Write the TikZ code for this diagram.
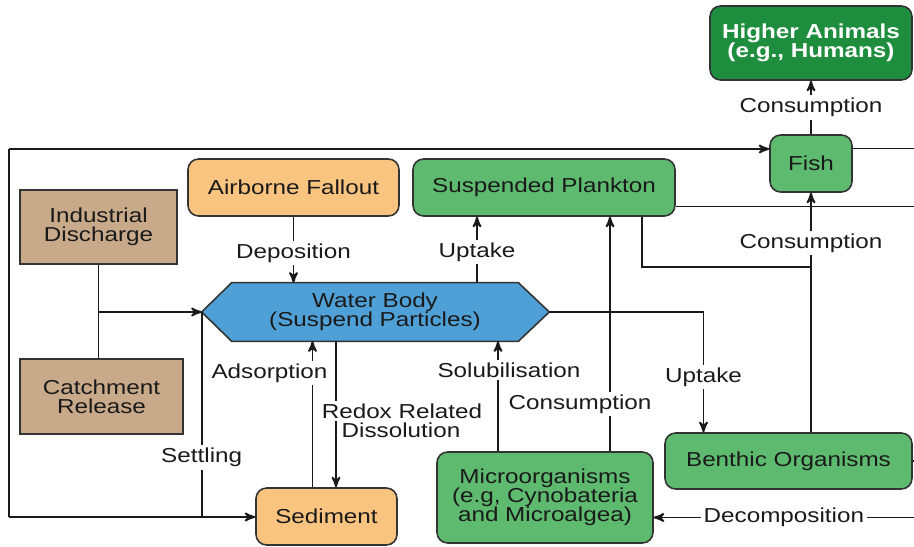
\documentclass[tikz,border=0pt]{standalone}
\usepackage{fontspec}
\setmainfont{Liberation Sans}[FakeStretch=1.2]
\usetikzlibrary{positioning}
\usetikzlibrary{arrows}
\usetikzlibrary{calc}
\definecolor{brownfill}{HTML}{C8A98A}
\definecolor{orangefill}{HTML}{F9C47F}
\definecolor{greenfill}{HTML}{5DBA6F}
\definecolor{darkgreen}{HTML}{1E8E3E}
\definecolor{bluefill}{HTML}{4FA0D6}
\definecolor{boxline}{HTML}{333333}
\definecolor{ink}{HTML}{1A1A1A}
\tikzset{>=stealth'}
\tikzset{box/.style={draw=boxline, line width=0.9pt, rounded corners=6pt, align=center, inner sep=0pt, text=ink, font=\fontsize{11.5}{10.8}\selectfont}}
\tikzset{srcbox/.style={box, rounded corners=0pt, fill=brownfill}}
\tikzset{lbl/.style={fill=white, inner sep=1.5pt, text=ink, font=\fontsize{11.5}{10.8}\selectfont}}
\tikzset{flow/.style={line width=1.1pt, draw=ink}}

\begin{document}
\begin{tikzpicture}[x=0.02cm, y=-0.02cm]
        \useasboundingbox (0,0) rectangle (914,547);

        \node[srcbox, minimum width=3.14cm, minimum height=1.48cm] (ind) at (98.5,227) {Industrial\\Discharge};
        \node[srcbox, minimum width=3.26cm, minimum height=1.5cm] (catch) at (101.5,396.5) {Catchment\\Release};
        \node[box, fill=orangefill, minimum width=4.22cm, minimum height=1.14cm] (air) at (293.5,187.5) {Airborne Fallout};
        \node[box, fill=greenfill, minimum width=5.24cm, minimum height=1.14cm] (plank) at (544,187.5) {Suspended Plankton};
        \node[box, fill=darkgreen, text=white, font=\fontsize{11.5}{10.8}\selectfont\bfseries, minimum width=4.04cm, minimum height=1.48cm] (higher) at (811,43) {Higher Animals\\(e.g., Humans)};
        \node[box, fill=greenfill, minimum width=1.64cm, minimum height=1.14cm] (fish) at (811,163.5) {Fish};
        \node[box, fill=orangefill, minimum width=2.82cm, minimum height=1.14cm] (sed) at (326.5,516.5) {Sediment};
        \node[box, fill=greenfill, minimum width=4.32cm, minimum height=1.82cm] (micro) at (545,497.5) {Microorganisms\\(e.g, Cynobateria\\and Microalgea)};
        \node[box, fill=greenfill, minimum width=4.94cm, minimum height=1.12cm] (benth) at (788.5,461) {Benthic Organisms};

        % water body hexagon
        \node[minimum width=5.72cm, minimum height=1.16cm, inner sep=0pt] (water) at (375,312) {};
        \coordinate (wl) at ($(water.west)+(-30,0)$);
        \coordinate (wr) at ($(water.east)+(31,0)$);
        \draw[draw=boxline, line width=0.9pt, fill=bluefill] (wl) -- (water.north west) -- (water.north east) -- (wr) -- (water.south east) -- (water.south west) -- cycle;
        \node[align=center, text=ink, font=\fontsize{11.5}{10.8}\selectfont] (waterlbl) at (water) {Water Body\\(Suspend Particles)};

        \coordinate (edge) at (914,0);
        \coordinate (ltop) at (9,149);
        \coordinate (lbot) at (9,517);
        \coordinate (upk) at ($(water.north)+(102,0)$);
        \coordinate (ads) at ($(sed.north)+(-14,0)$);
        \coordinate (rdx) at ($(water.south)+(-39,0)$);
        \coordinate (sol) at ($(micro.north)+(-47,0)$);
        \coordinate (mcon) at ($(micro.north)+(65,0)$);
        \coordinate (bup) at ($(benth.north)+(-85,0)$);
        \coordinate (bcon) at (benth.north -| fish);
        \coordinate (pk) at ($(plank.south)+(98,0)$);
        \coordinate (jn) at (fish.south |- 0,267);
        \coordinate (fr) at ($(fish.east)+(0,-15)$);
        \coordinate (pr) at ($(plank.east)+(0,19)$);
        \coordinate (dc) at ($(micro.east)+(0,20)$);

        % outer loop
        \draw[flow] (ltop) -- (lbot);
        \draw[flow, ->] (ltop) -- (ltop -| fish.west);
        \draw[flow, ->] (lbot) -- (lbot -| sed.west);

        % sources
        \draw[flow] (ind) -- (ind.south |- catch.north);
        \draw[flow, ->] (wl -| ind.south) -- (wl);
        \draw[flow] (wl) -- node[lbl, pos=0.71] {Settling} (wl |- lbot);
        \draw[flow, ->] (air) -- node[lbl, pos=0.55] {Deposition} (air |- water.north);
        \draw[flow, ->] (upk) -- node[lbl, pos=0.46] {Uptake} (upk |- plank.south);

        % sediment exchange
        \draw[flow, ->] (ads) -- node[lbl, pos=0.78, xshift=-0.86cm] {Adsorption} (ads |- water.south);
        \draw[flow, ->] (rdx) -- node[lbl, pos=0.48, xshift=1.32cm] {Redox Related}
            node[lbl, pos=0.61, xshift=1.3cm] {Dissolution} (rdx |- sed.north);

        % microorganisms
        \draw[flow, ->] (sol) -- node[lbl, pos=0.74, xshift=0.22cm] {Solubilisation} (sol |- water.south);
        \draw[flow, ->] (mcon) -- node[lbl, pos=0.2, xshift=-0.6cm] {Consumption} (mcon |- plank.south);

        % benthic and fish
        \draw[flow, ->] (wr) -| node[lbl, pos=0.77] {Uptake} (bup);
        \draw[flow, ->] (bcon) -- node[lbl, pos=0.79] {Consumption} (fish);
        \draw[flow] (pk) |- (jn);
        \draw[flow, ->] (fish) -- node[lbl] {Consumption} (higher);

        % to the right edge
        \draw[flow] (fr) -- (fr -| edge);
        \draw[flow] (pr) -- (pr -| edge);
        \draw[flow] (benth.east) -- (benth.east -| edge);
        \draw[flow, ->] (dc -| edge) -- node[lbl] {Decomposition} (dc);
\end{tikzpicture}
\end{document}
